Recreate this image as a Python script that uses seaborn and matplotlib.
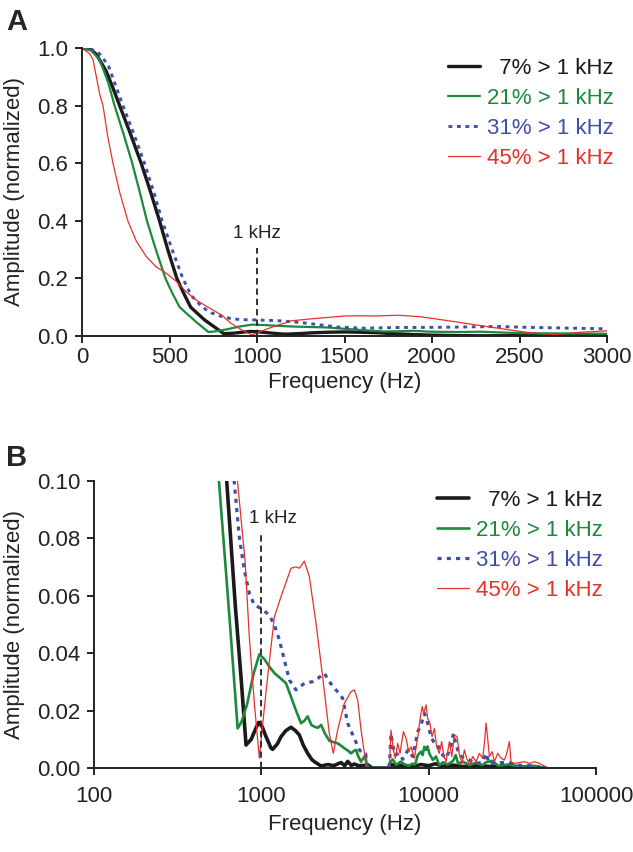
import numpy as np
import pandas as pd
import matplotlib
matplotlib.use("Agg")
import matplotlib.pyplot as plt
import seaborn as sns
from matplotlib.ticker import FixedLocator, FormatStrFormatter, NullLocator

# ---------------- data ----------------
series_labels = ["  7% > 1 kHz", "21% > 1 kHz", "31% > 1 kHz", "45% > 1 kHz"]

f_7 = [0, 50, 82, 139, 177, 215, 278, 338, 392, 443, 490, 542, 580, 621, 700, 760, 810,
       870, 930, 964, 1010, 1067, 1143, 1169, 1250, 1311, 1400, 1504, 1600, 1687, 1780,
       1892, 2000, 2075, 2276, 2500, 2700, 2993, 3150, 3281, 3450, 3597, 3800, 4131,
       4300, 4600, 5800, 6000, 6500, 7000, 8000, 9000, 10000, 11000, 12000, 14000,
       16000, 20000, 25000, 30000, 40000, 50000]
a_7 = [1.0, 0.995, 0.978, 0.919, 0.861, 0.80, 0.70, 0.60, 0.50, 0.40, 0.30, 0.20, 0.15,
       0.10, 0.056, 0.03, 0.008, 0.010, 0.014, 0.0159, 0.0145, 0.0109, 0.0069, 0.0065,
       0.0085, 0.0109, 0.013, 0.0142, 0.013, 0.0115, 0.008, 0.0051, 0.003, 0.0022,
       0.0007, 0.0012, 0.0008, 0.0019, 0.0008, 0.0023, 0.0009, 0.0014, 0.0008, 0.0009,
       0.0012, 0.0, 0.0, 0.0012, 0.0006, 0.001, 0.0005, 0.0012, 0.0008, 0.0015, 0.0006,
       0.001, 0.0005, 0.0008, 0.0004, 0.0006, 0.0003, 0.0]

f_21 = [0, 50, 100, 150, 186, 238, 287, 330, 371, 422, 477, 515, 558, 650, 722, 760,
        820, 900, 973, 1040, 1117, 1200, 1282, 1405, 1500, 1612, 1727, 1810, 1892, 1990,
        2075, 2175, 2276, 2400, 2549, 2700, 2858, 2990, 3133, 3300, 3435, 3580, 3681,
        3800, 3945, 4080, 4187, 4260, 4400, 5700, 5823, 6100, 6400, 6800, 7200, 7600,
        8000, 8300, 8610, 9000, 9200, 9430, 9650, 9850, 10100, 10590, 11050, 11580,
        12200, 13000, 14000, 14500, 15000, 16000, 17500, 19000, 21000, 22000, 24000,
        26000, 30000, 35000, 42000, 50000]
a_21 = [1.0, 0.993, 0.96, 0.88, 0.80, 0.70, 0.60, 0.50, 0.40, 0.30, 0.20, 0.15, 0.10,
        0.05, 0.0138, 0.016, 0.022, 0.033, 0.0396, 0.038, 0.0353, 0.033, 0.0316, 0.0295,
        0.025, 0.020, 0.0156, 0.0165, 0.018, 0.015, 0.0144, 0.014, 0.015, 0.012, 0.0095,
        0.009, 0.0086, 0.0078, 0.0069, 0.006, 0.0051, 0.006, 0.0063, 0.004, 0.0022,
        0.0035, 0.0045, 0.001, 0.0, 0.0, 0.0016, 0.003, 0.001, 0.0022, 0.0012, 0.0008,
        0.0015, 0.0012, 0.0045, 0.0057, 0.0045, 0.0074, 0.0063, 0.0075, 0.005, 0.0028,
        0.004, 0.001, 0.002, 0.0012, 0.0025, 0.0045, 0.0015, 0.0022, 0.001, 0.0018,
        0.001, 0.002, 0.0025, 0.0008, 0.0012, 0.0005, 0.0008, 0.0]

f_31 = [0, 50, 100, 150, 234, 297, 357, 410, 458, 515, 576, 625, 688, 738, 791, 847,
        908, 996, 1116, 1197, 1282, 1373, 1470, 1611, 1807, 2027, 2175, 2381, 2547, 2793,
        3062, 3281, 3597, 3855, 4030, 4200, 4300, 5700, 5823, 5955, 6100, 6300, 6650,
        7000, 7530, 8030, 8610, 9000, 9430, 9860, 10330, 10810, 11330, 11850, 12700,
        13560, 14060, 14600, 15280, 16340, 17500, 19000, 21000, 22030, 23000, 25500,
        30000, 33000, 40000, 50000]
a_31 = [1.0, 0.997, 0.98, 0.94, 0.80, 0.70, 0.60, 0.50, 0.40, 0.30, 0.20, 0.14, 0.10,
        0.0806, 0.069, 0.0609, 0.0568, 0.0556, 0.0533, 0.0498, 0.0446, 0.0376, 0.0307,
        0.0272, 0.0295, 0.0301, 0.0312, 0.033, 0.0301, 0.0272, 0.0243, 0.0156, 0.0103,
        0.0063, 0.0051, 0.005, 0.0, 0.0, 0.0, 0.012, 0.008, 0.0045, 0.0051, 0.003,
        0.0063, 0.004, 0.0127, 0.015, 0.019, 0.0156, 0.0109, 0.0086, 0.008, 0.0051,
        0.0034, 0.0074, 0.012, 0.008, 0.0045, 0.0034, 0.0028, 0.0015, 0.002, 0.0051,
        0.0015, 0.0018, 0.002, 0.001, 0.0008, 0.0]

f_45 = [0, 44, 63, 82, 101, 120, 148, 177, 215, 262, 310, 367, 424, 481, 538, 595, 652,
        720, 800, 847, 910, 973, 1030, 1091, 1197, 1311, 1504, 1611, 1687, 1807, 1936,
        2123, 2324, 2547, 2692, 2857, 3133, 3435, 3597, 3767, 3945, 4131, 4227, 4400,
        5700, 5823, 5955, 6150, 6323, 6530, 6745, 7063, 7328, 7600, 7850, 8220, 8610,
        8895, 9146, 9340, 9646, 9860, 10184, 10470, 10810, 11160, 11580, 11960, 12300,
        12700, 13300, 13740, 14260, 14790, 15280, 15860, 16340, 16870, 17500, 18330,
        19190, 20100, 21030, 21530, 22030, 22560, 23070, 23940, 24710, 25880, 27100,
        28370, 29260, 30370, 31060, 32530, 34860, 37350, 40010, 42880, 45940, 49230,
        50400]
a_45 = [1.0, 0.98, 0.96, 0.90, 0.84, 0.80, 0.69, 0.60, 0.50, 0.40, 0.33, 0.276, 0.24,
        0.218, 0.19, 0.154, 0.125, 0.10, 0.072, 0.0458, 0.022, 0.0034, 0.018, 0.0318,
        0.0527, 0.0597, 0.0696, 0.0701, 0.0696, 0.0721, 0.0667, 0.0504, 0.0318, 0.0121,
        0.0051, 0.0132, 0.0225, 0.0266, 0.0272, 0.0237, 0.0132, 0.0051, 0.0005, 0.0,
        0.0, 0.0005, 0.0132, 0.0063, 0.0034, 0.0086, 0.0051, 0.0127, 0.0103, 0.0057,
        0.0074, 0.0034, 0.0109, 0.0173, 0.0214, 0.019, 0.022, 0.0173, 0.0156, 0.0109,
        0.0138, 0.0074, 0.0051, 0.0092, 0.0045, 0.0022, 0.0092, 0.004, 0.0115, 0.0109,
        0.0045, 0.0016, 0.0063, 0.0034, 0.001, 0.004, 0.0022, 0.0051, 0.0034, 0.0086,
        0.0156, 0.0098, 0.004, 0.0057, 0.0022, 0.0051, 0.0034, 0.0028, 0.0051, 0.0092,
        0.0022, 0.0016, 0.0019, 0.0022, 0.0016, 0.0022, 0.0016, 0.0007, 0.0]

marker_freq = 1000
marker_text = "1 kHz"
xticks_a = [0, 500, 1000, 1500, 2000, 2500, 3000]
yticks_a = [0.0, 0.2, 0.4, 0.6, 0.8, 1.0]
xticks_b = [100, 1000, 10000, 100000]
yticks_b = [0.00, 0.02, 0.04, 0.06, 0.08, 0.10]

# ---------------- style ----------------
sns.set_theme(style="ticks")
plt.rcParams["font.family"] = ["Liberation Sans", "DejaVu Sans"]
plt.rcParams["axes.linewidth"] = 1.4
plt.rcParams["xtick.major.width"] = 1.4
plt.rcParams["ytick.major.width"] = 1.4
plt.rcParams["xtick.major.size"] = 5
plt.rcParams["ytick.major.size"] = 5
plt.rcParams["axes.edgecolor"] = "#222222"

colors = ["#1a1a1a", "#1b8a3c", "#3d4fa6", "#e8302a"]
widths_a = [2.4, 1.6, 2.1, 0.9]
widths_b = [2.6, 1.9, 2.3, 0.9]
styles = ["-", "-", (0, (1.3, 1.6)), "-"]

freqs = [f_7, f_21, f_31, f_45]
amps = [a_7, a_21, a_31, a_45]
frames = [pd.DataFrame({"f": f, "a": a}) for f, a in zip(freqs, amps)]

fig = plt.figure(figsize=(6.33, 8.52), dpi=100)
W, H = 633, 852
axA = fig.add_axes([82 / W, 1 - 336 / H, (607 - 82) / W, (336 - 48) / H])
axB = fig.add_axes([94 / W, 1 - 768 / H, (596 - 94) / W, (768 - 481) / H])

for ax, widths in ((axA, widths_a), (axB, widths_b)):
    for df, lab, c, lw, ls in zip(frames, series_labels, colors, widths, styles):
        sns.lineplot(data=df, x="f", y="a", ax=ax, color=c, lw=lw, linestyle=ls,
                     label=lab, estimator=None, sort=False)

# ----- panel A -----
axA.set_xlim(0, 3000)
axA.set_ylim(0, 1.0)
axA.xaxis.set_major_locator(FixedLocator(xticks_a))
axA.yaxis.set_major_locator(FixedLocator(yticks_a))
axA.yaxis.set_major_formatter(FormatStrFormatter("%.1f"))
axA.vlines(marker_freq, 0, 0.305, colors="#222222", linestyles=(0, (3.5, 2.2)), lw=1.3)
axA.text(marker_freq, 0.355, marker_text, ha="center", va="center", fontsize=13.5,
         color="#222222")

# ----- panel B -----
axB.set_xscale("log")
axB.set_xlim(100, 100000)
axB.set_ylim(0, 0.10)
axB.xaxis.set_major_locator(FixedLocator(xticks_b))
axB.xaxis.set_major_formatter(FormatStrFormatter("%d"))
axB.xaxis.set_minor_locator(NullLocator())
axB.yaxis.set_major_locator(FixedLocator(yticks_b))
axB.yaxis.set_major_formatter(FormatStrFormatter("%.2f"))
axB.vlines(marker_freq, 0, 0.0823, colors="#222222", linestyles=(0, (3.5, 2.2)), lw=1.3)
axB.text(1175, 0.087, marker_text, ha="center", va="center", fontsize=13.5,
         color="#222222")

for ax, xpad, lpad in ((axA, 3, 3), (axB, 8, 5)):
    sns.despine(ax=ax)
    ax.tick_params(labelsize=16, colors="#222222")
    ax.tick_params(axis="x", pad=xpad)
    ax.tick_params(axis="y", pad=5)
    ax.set_xlabel("Frequency (Hz)", fontsize=16, color="#222222", labelpad=lpad)
    ax.set_ylabel("Amplitude (normalized)", fontsize=16, color="#222222")


def style_legend(ax, anchor):
    leg = ax.legend(loc="upper right", bbox_to_anchor=anchor,
                    bbox_transform=fig.transFigure, frameon=False, fontsize=16,
                    handlelength=1.45, handletextpad=0.3, labelspacing=0.4,
                    borderpad=0, borderaxespad=0)
    for t, c in zip(leg.get_texts(), colors):
        t.set_color(c)
    return leg


style_legend(axA, (614 / W, 1 - 58 / H))
style_legend(axB, (603 / W, 1 - 490 / H))

fig.text(6 / W, 1 - 8 / H, "A", fontsize=21, fontweight="bold", va="top", ha="left")
fig.text(6 / W, 1 - 444 / H, "B", fontsize=21, fontweight="bold", va="top", ha="left")

# y-label anchor: right edge of the rotated label at ~24 px from the left
for ax, left, right in ((axA, 82, 607), (axB, 94, 596)):
    ax.yaxis.set_label_coords((25 - left) / (right - left), 0.5)

fig.savefig("out.png", dpi=100)
